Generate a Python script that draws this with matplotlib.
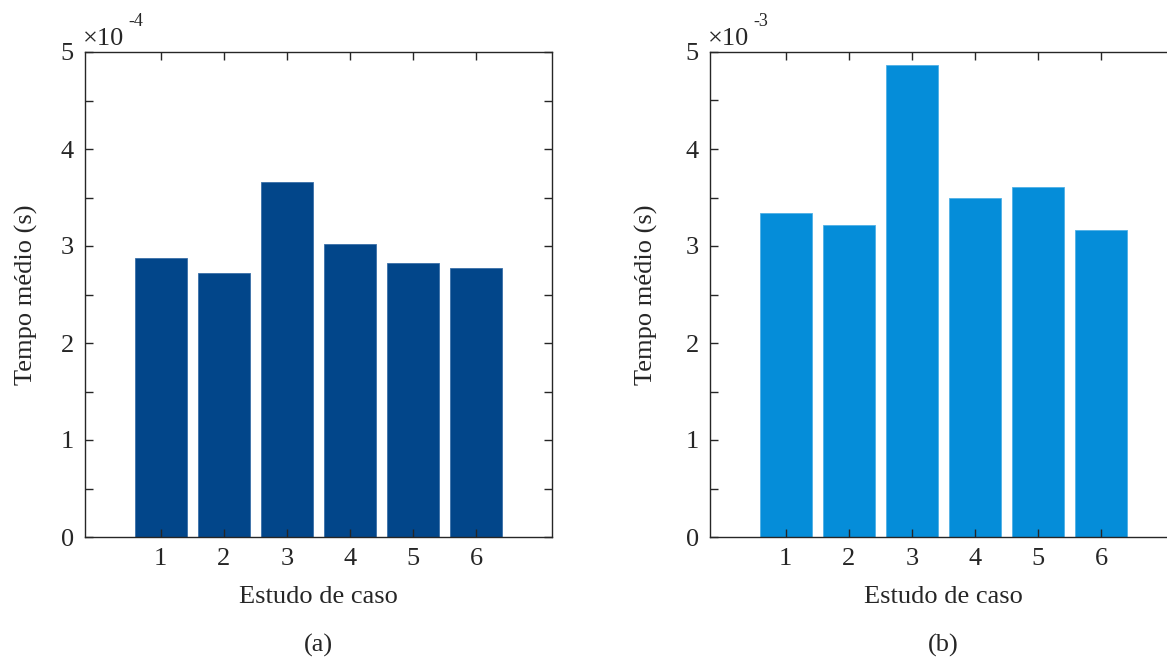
import matplotlib
matplotlib.use("Agg")
import matplotlib.pyplot as plt
from matplotlib.ticker import FuncFormatter, MultipleLocator

plt.rcParams['font.family'] = ['Liberation Serif', 'DejaVu Serif']

cases = [1, 2, 3, 4, 5, 6]
tempo_a = [2.873e-4, 2.719e-4, 3.657e-4, 3.020e-4, 2.821e-4, 2.773e-4]
tempo_b = [3.337e-3, 3.214e-3, 4.865e-3, 3.498e-3, 3.612e-3, 3.162e-3]
color_a = '#02468a'
color_b = '#058dd9'
edge_a = '#3a6fa8'
edge_b = '#4fb0e6'

W, H = 1167, 657
fig = plt.figure(figsize=(W / 100, H / 100), dpi=100)

FS = 19
axes_specs = [
    (85, tempo_a, 1e-4, '-4', color_a, edge_a, '(a)', -59, True),
    (710, tempo_b, 1e-3, '-3', color_b, edge_b, '(b)', -64, False),
]
ax_w = 467
ax_top, ax_bot = 52, 537

for x0, vals, scale, exp, col, ecol, tag, ylab_off, show_right in axes_specs:
    ax = fig.add_axes([x0 / W, 1 - ax_bot / H, ax_w / W, (ax_bot - ax_top) / H])
    ax.bar(cases, vals, width=0.82, color=col, edgecolor=ecol, linewidth=0.6)
    ax.set_xlim(-0.2, 7.2)
    ax.set_ylim(0, 5 * scale)
    ax.set_xticks(cases)
    ax.yaxis.set_major_locator(MultipleLocator(scale))
    ax.yaxis.set_minor_locator(MultipleLocator(scale / 2))
    ax.yaxis.set_major_formatter(FuncFormatter(lambda v, p, s=scale: f"{v / s:.0f}"))
    ax.tick_params(axis='both', which='both', direction='in', top=True, right=show_right,
                   labelsize=FS, colors='#262626', width=1.0)
    ax.tick_params(axis='both', which='major', length=6, pad=8)
    ax.tick_params(axis='y', which='minor', length=6)
    for sp in ax.spines.values():
        sp.set_color('#262626')
        sp.set_linewidth(1.0)
    ax.spines['right'].set_visible(show_right)
    ax.set_xlabel('Estudo de caso', fontsize=FS, color='#262626')
    ax.xaxis.set_label_coords(0.5, (ax_bot - 597) / (ax_bot - ax_top))
    ax.xaxis.label.set_va('center')
    ax.set_ylabel('Tempo médio (s)', fontsize=FS, color='#262626')
    ax.yaxis.set_label_coords(ylab_off / ax_w, 0.5)
    ax.yaxis.label.set_va('center')
    # offset text (multiplier)
    fig.text((x0 - 2) / W, 1 - 45 / H, '×10', fontsize=FS, color='#262626',
             ha='left', va='baseline')
    fig.text((x0 + 43) / W, 1 - 26 / H, exp, fontsize=13, color='#262626',
             ha='left', va='baseline')
    fig.text((x0 + ax_w / 2) / W, 1 - 645 / H, tag, fontsize=FS, color='#262626',
             ha='center', va='center')

fig.savefig('out.png', dpi=100)
